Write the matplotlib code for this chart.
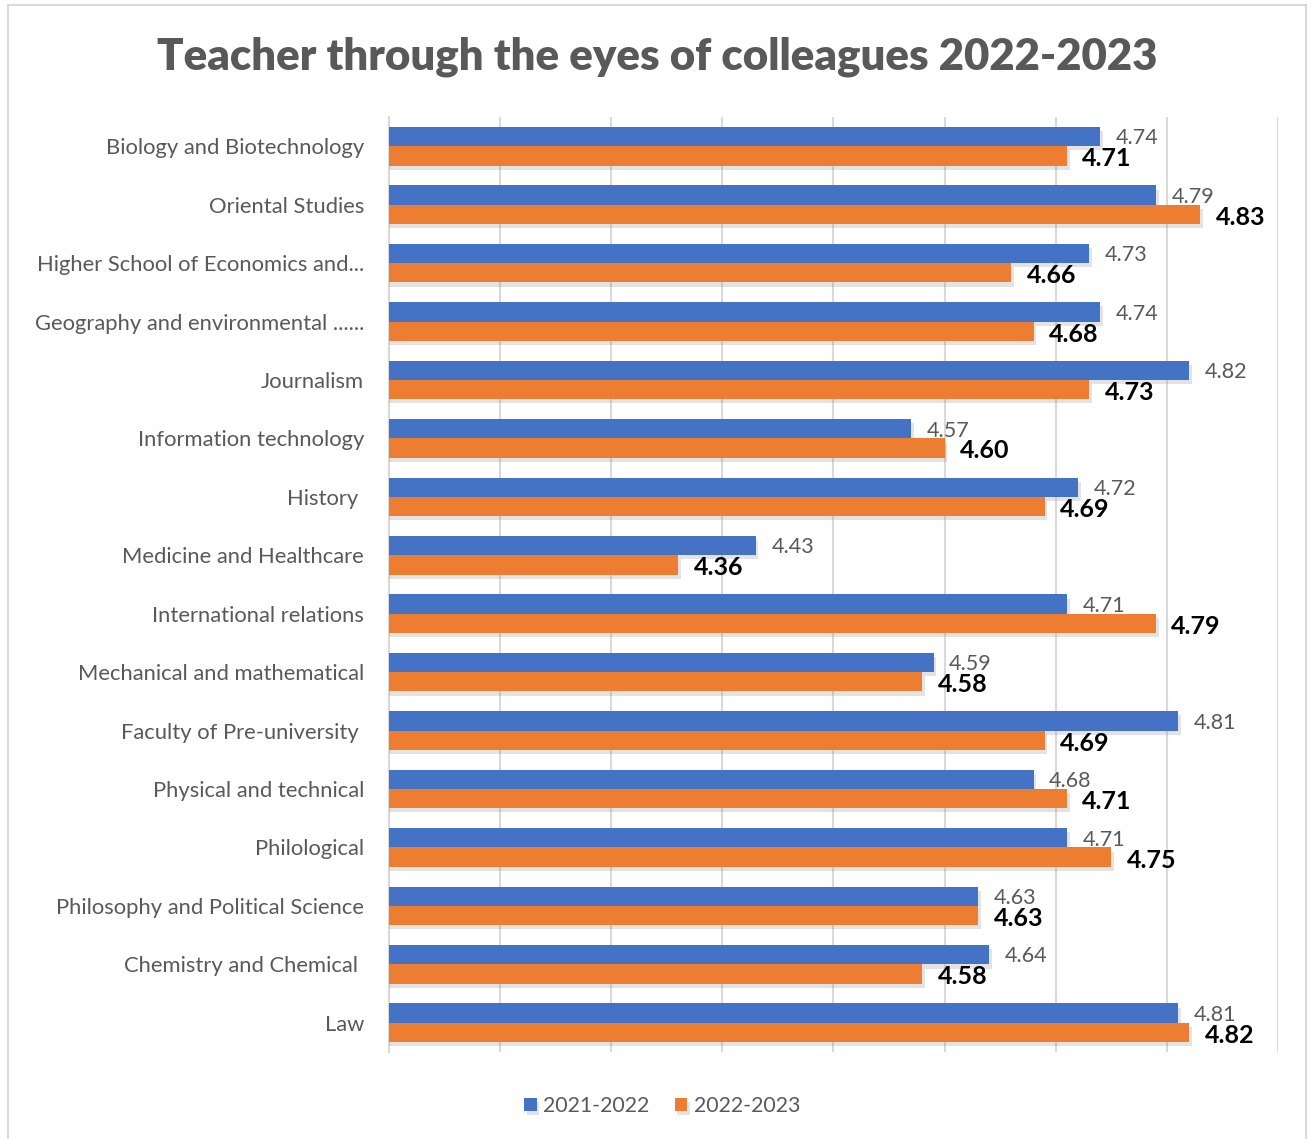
import matplotlib.pyplot as plt
import matplotlib.patheffects as pe
from matplotlib.patches import Rectangle
import numpy as np

# data (top to bottom)
faculties = ['Biology and Biotechnology', 'Oriental Studies', 'Higher School of Economics and...',
             'Geography and environmental ......', 'Journalism', 'Information technology',
             'History ', 'Medicine and Healthcare', 'International relations',
             'Mechanical and mathematical', 'Faculty of Pre-university ', 'Physical and technical',
             'Philological', 'Philosophy and Political Science', 'Chemistry and Chemical ', 'Law']
y2122 = [4.74, 4.79, 4.73, 4.74, 4.82, 4.57, 4.72, 4.43, 4.71, 4.59, 4.81, 4.68, 4.71, 4.63, 4.64, 4.81]
y2223 = [4.71, 4.83, 4.66, 4.68, 4.73, 4.60, 4.69, 4.36, 4.79, 4.58, 4.69, 4.71, 4.75, 4.63, 4.58, 4.82]
series = ['2021-2022', '2022-2023']

blue = '#4472C4'
orange = '#ED7D31'
grey = '#595959'

plt.rcParams['font.family'] = ['Lato', 'DejaVu Sans']

fig = plt.figure(figsize=(13.13, 11.39), dpi=100)
fig.patches.append(Rectangle((8 / 1313, -0.01), 1298 / 1313, 1 - 5 / 1139 + 0.01, transform=fig.transFigure,
                             fill=False, edgecolor='#D9D9D9', linewidth=1.5))
ax = fig.add_axes([389 / 1313, 1 - 1052 / 1139, (1278 - 389) / 1313, (1052 - 117) / 1139])

n = len(faculties)
pos = np.arange(n)
h = 0.33
shadow = [pe.SimplePatchShadow(offset=(2, -3), shadow_rgbFace='#909090', alpha=0.25), pe.Normal()]
b1 = ax.barh(pos - h / 2, y2122, height=h, left=0, color=blue, label=series[0], zorder=3)
b2 = ax.barh(pos + h / 2, y2223, height=h, left=0, color=orange, label=series[1], zorder=3)
for b in list(b1) + list(b2):
    b.set_path_effects(shadow)

for i in range(n):
    ax.text(y2122[i] + 0.014, pos[i] - h / 2 + 0.03, '%.2f' % y2122[i], va='center', ha='left',
            fontsize=15.5, color=grey)
    ax.text(y2223[i] + 0.014, pos[i] + h / 2 + 0.05, '%.2f' % y2223[i], va='center', ha='left',
            fontsize=18, color='black', fontweight='bold')

ax.set_xlim(4.1, 4.9)
ax.set_ylim(n - 0.5, -0.5)
ax.set_xticks(np.arange(4.1, 4.91, 0.1))
ax.set_xticklabels([])
ax.set_yticks(pos)
ax.set_yticklabels(faculties, fontsize=15.8, color=grey)
ax.tick_params(axis='both', length=0)
ax.tick_params(axis='y', pad=18)
ax.grid(axis='x', color='#D9D9D9', linewidth=1.5, zorder=0)
ax.set_axisbelow(True)
for s in ['top', 'right', 'bottom']:
    ax.spines[s].set_visible(False)
ax.spines['left'].set_color('#D9D9D9')
ax.spines['left'].set_linewidth(1.5)

fig.text(657 / 1313, 1 - 57 / 1139, 'Teacher through the eyes of colleagues 2022-2023', ha='center', va='center',
         fontsize=31.5, fontweight='heavy', color=grey)

leg = fig.legend(handles=[b1, b2], labels=series, loc='center', bbox_to_anchor=(662 / 1313, 1 - 1106 / 1139),
                 ncol=2, frameon=False, fontsize=15.3, handlelength=0.6, handleheight=0.6, handletextpad=0.3,
                 columnspacing=1.2)
for t in leg.get_texts():
    t.set_color(grey)

fig.savefig('out.png', dpi=100)
